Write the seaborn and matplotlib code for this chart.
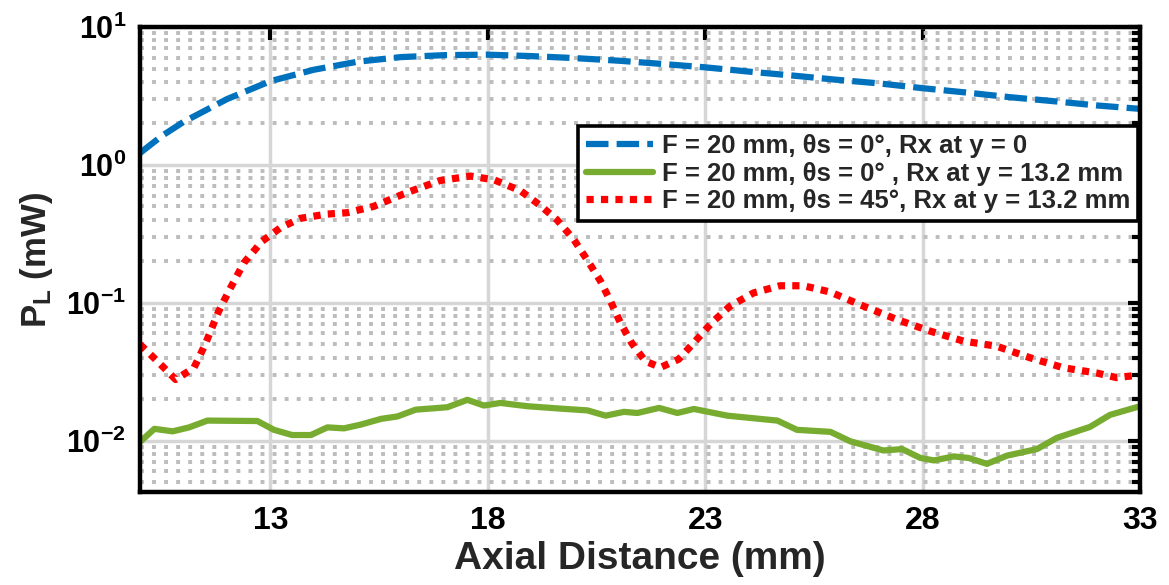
import numpy as np
import pandas as pd
import matplotlib
matplotlib.use("Agg")
import matplotlib.pyplot as plt
import matplotlib.ticker as mticker
import seaborn as sns

# ---------------- data ----------------
blue_x = [10, 10.5, 11, 12, 13, 14, 15, 16, 17, 18, 19, 20, 21, 22, 23, 24, 25,
          26, 27, 28, 29, 30, 31, 32, 33]
blue_y = [1.22, 1.62, 2.05, 3.0, 4.05, 4.9, 5.6, 6.05, 6.25, 6.3, 6.15, 5.95, 5.7,
          5.4, 5.1, 4.75, 4.45, 4.15, 3.9, 3.6, 3.35, 3.1, 2.9, 2.7, 2.55]

green_x = [10.0, 10.33, 10.75, 11.13, 11.55, 12.7, 13.08, 13.5, 13.93, 14.31, 14.69,
           15.08, 15.54, 15.92, 16.34, 17.07, 17.53, 17.91, 18.29, 18.91, 19.67,
           20.29, 20.71, 21.13, 21.44, 21.94, 22.36, 22.74, 23.51, 24.66, 25.11,
           25.88, 26.34, 27.1, 27.53, 27.95, 28.26, 28.72, 29.06, 29.48, 29.94,
           30.63, 31.09, 31.85, 32.31, 33.0]
green_y = [0.0098, 0.0122, 0.0117, 0.0125, 0.0140, 0.0139, 0.0120, 0.0110, 0.0110,
           0.0125, 0.0123, 0.0131, 0.0144, 0.0150, 0.0168, 0.0175, 0.0198, 0.0180,
           0.0188, 0.0178, 0.0171, 0.0166, 0.0152, 0.0162, 0.0159, 0.0173, 0.0159,
           0.0170, 0.0152, 0.0140, 0.0120, 0.0116, 0.0099, 0.0085, 0.0087, 0.0075,
           0.0072, 0.0077, 0.0075, 0.0068, 0.0078, 0.0087, 0.0105, 0.0126, 0.0154,
           0.0178]

red_x = [10.0, 10.4, 10.82, 11.24, 11.5, 11.81, 12.08, 12.39, 12.81, 13.23, 13.69,
         14.3, 14.76, 15.37, 16.14, 16.9, 17.6, 18.14, 18.75, 19.2, 19.59, 19.97,
         20.28, 20.59, 20.82, 21.05, 21.31, 21.62, 21.97, 22.39, 22.73, 23.15,
         23.57, 24.11, 24.72, 25.26, 25.87, 26.64, 27.41, 28.17, 28.94, 29.7,
         30.47, 31.24, 32.0, 32.46, 33.0]
red_y = [0.050, 0.0377, 0.0278, 0.0338, 0.050, 0.087, 0.128, 0.195, 0.28, 0.35,
         0.41, 0.44, 0.45, 0.50, 0.63, 0.77, 0.83, 0.78, 0.65, 0.51, 0.40, 0.29,
         0.206, 0.144, 0.103, 0.0716, 0.051, 0.0378, 0.034, 0.039, 0.051, 0.0716,
         0.0946, 0.118, 0.133, 0.133, 0.12, 0.0946, 0.0757, 0.0624, 0.0528,
         0.0485, 0.040, 0.0338, 0.031, 0.0287, 0.0300]

labels = ["F = 20 mm, θs = 0°, Rx at y = 0",
          "F = 20 mm, θs = 0° , Rx at y = 13.2 mm",
          "F = 20 mm, θs = 45°, Rx at y = 13.2 mm"]
colors = ["#0072BD", "#77AC30", "#FF0000"]

x_ticks = [13, 18, 23, 28, 33]
y_ticks = [0.01, 0.1, 1, 10]
y_ticklabels = [r"$\mathbf{10^{-2}}$", r"$\mathbf{10^{-1}}$",
                r"$\mathbf{10^{0}}$", r"$\mathbf{10^{1}}$"]
x_label = "Axial Distance (mm)"
y_label = r"$\mathbf{P_{L}}$ (mW)"

# ---------------- style ----------------
sns.set_theme(style="white")
plt.rcParams["font.family"] = ["Liberation Sans", "DejaVu Sans"]
plt.rcParams["font.weight"] = "bold"
plt.rcParams["mathtext.fontset"] = "custom"
plt.rcParams["mathtext.rm"] = "Liberation Sans"
plt.rcParams["mathtext.bf"] = "Liberation Sans:bold"
plt.rcParams["mathtext.it"] = "Liberation Sans:italic"

fig = plt.figure(figsize=(11.69, 5.85), dpi=100)
ax = fig.add_axes([140 / 1169, 1 - 492 / 585, 1000 / 1169, 465 / 585])

lw = 4.5
sns.lineplot(x=blue_x, y=blue_y, ax=ax, color=colors[0], linewidth=lw,
             label=labels[0], linestyle=(0, (3.6, 1.3)))
sns.lineplot(x=green_x, y=green_y, ax=ax, color=colors[1], linewidth=lw,
             label=labels[1])
sns.lineplot(x=red_x, y=red_y, ax=ax, color=colors[2], linewidth=5.2,
             label=labels[2], linestyle=(0, (1.0, 1.0)))

ax.set_yscale("log")
ax.set_xlim(10, 33)
ax.set_ylim(0.00425, 10)

ax.set_xticks(x_ticks)
ax.set_xticklabels([str(t) for t in x_ticks], fontsize=23, fontweight="bold")
ax.set_yticks(y_ticks)
ax.set_yticklabels(y_ticklabels, fontsize=22)
ax.yaxis.set_minor_locator(mticker.LogLocator(base=10, subs=np.arange(2, 10), numticks=20))
ax.yaxis.set_minor_formatter(mticker.NullFormatter())
ax.xaxis.set_minor_locator(mticker.NullLocator())

ax.tick_params(which="both", direction="in", top=True, right=True, colors="black")
ax.tick_params(which="major", length=9, width=3, pad=10)
ax.tick_params(axis="y", which="minor", length=6, width=3)

# grids
ax.grid(True, which="major", axis="both", color="#d6d6d6", linewidth=2.5, linestyle="-")
ax.grid(True, which="minor", axis="y", color="#bcbcbc", linewidth=2.8,
        linestyle=(0, (1.0, 2.1)))
ax.set_axisbelow(True)

for sp in ax.spines.values():
    sp.set_color("black")
    sp.set_linewidth(3.2)

ax.set_xlabel(x_label, fontsize=28, fontweight="bold", labelpad=4)
ax.set_ylabel(y_label, fontsize=25, fontweight="bold", labelpad=8)

leg = ax.legend(loc="upper left", bbox_to_anchor=(0.438, 0.787), fontsize=18.5,
                frameon=True, fancybox=False, edgecolor="black", framealpha=1,
                handlelength=2.6, handletextpad=0.35, labelspacing=0.15,
                borderpad=0.3, borderaxespad=0)
leg.get_frame().set_linewidth(2.6)
for t in leg.get_texts():
    t.set_fontweight("bold")

fig.savefig("out.png", dpi=100, facecolor="white")
